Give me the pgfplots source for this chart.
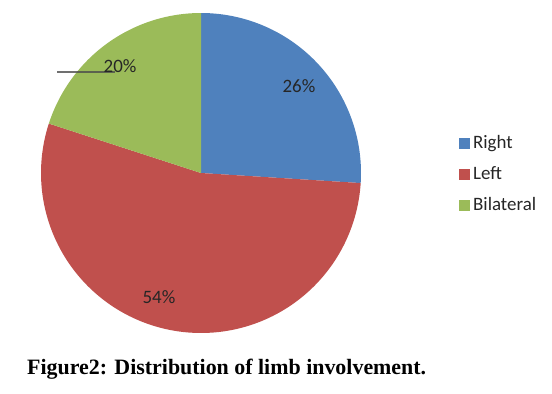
\documentclass[border=0pt]{standalone}
\usepackage{pgfplots}
\pgfplotsset{compat=1.18}
\usepackage{fontspec}
\setmainfont{Carlito}
\newfontfamily\capfont{Liberation Serif}
\definecolor{pieblue}{HTML}{4F81BD}
\definecolor{piered}{HTML}{C0504D}
\definecolor{piegreen}{HTML}{9BBB59}
\definecolor{txt}{HTML}{262626}
% data (percent)
\def\vRight{26}
\def\vLeft{54}
\def\vBilateral{20}
\pgfmathsetmacro\aA{90}
\pgfmathsetmacro\aB{90-3.6*\vRight}
\pgfmathsetmacro\aC{\aB-3.6*\vLeft}
\pgfmathsetmacro\aD{\aC-3.6*\vBilateral}
\begin{document}
\begin{tikzpicture}
\path[use as bounding box] (0,0) rectangle (552bp,-394bp);
\begin{axis}[
  anchor=center, at={(201bp,-173bp)},
  scale only axis, width=320bp, height=320bp,
  xmin=-1, xmax=1, ymin=-1, ymax=1,
  axis lines=none, clip=false,
  legend style={at={(1.306,0.49)}, anchor=west, draw=none, fill=none,
    font=\fontsize{19}{22}\selectfont\color{txt}, row sep=0bp,
    inner sep=0pt, cells={anchor=west},
    nodes={text height=19bp, text depth=12bp, inner sep=0pt, inner xsep=3bp}},
  legend image code/.code={\fill[#1] (0bp,-4bp) rectangle (11bp,7bp);},
]
\addplot[fill=pieblue, draw=none, domain=\aB:\aA, samples=120] ({cos(x)},{sin(x)}) -- (0,0) -- cycle;
\addlegendentry{Right}
\addplot[fill=piered, draw=none, domain=\aC:\aB, samples=200] ({cos(x)},{sin(x)}) -- (0,0) -- cycle;
\addlegendentry{Left}
\addplot[fill=piegreen, draw=none, domain=\aD:\aC, samples=100] ({cos(x)},{sin(x)}) -- (0,0) -- cycle;
\addlegendentry{Bilateral}
\node[font=\fontsize{19}{22}\selectfont, text=txt] at (axis cs:0.6125,0.544) {26\%};
\node[font=\fontsize{19}{22}\selectfont, text=txt] at (axis cs:-0.2625,-0.775) {54\%};
\draw[black!70, opacity=0.8, line width=1.8bp] (axis cs:-0.9,0.63) -- (axis cs:-0.54,0.63);
\node[font=\fontsize{19}{22}\selectfont, text=txt] at (axis cs:-0.506,0.669) {20\%};
\end{axis}
\node[anchor=base west, inner sep=0pt, font=\capfont\bfseries\fontsize{22}{26}\selectfont] at (27bp,-374bp) {Figure2: Distribution of limb involvement.};
\end{tikzpicture}
\end{document}
